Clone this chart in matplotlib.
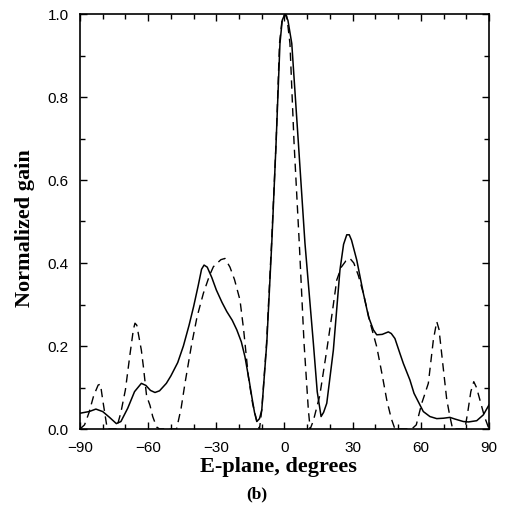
import matplotlib
matplotlib.use("Agg")
import matplotlib.pyplot as plt
from matplotlib.ticker import MultipleLocator

# Measured pattern (solid)
meas_deg = [-90, -86, -83, -80, -77, -74, -72, -69, -66, -63, -61, -59, -57, -55, -52,
            -50, -47, -44.5, -42, -40, -38, -36.5, -35.4, -34, -32, -30, -27.5, -25.4,
            -23, -21, -19, -17.4, -15.5, -14.4, -13.2, -12.2, -11, -10, -7.8, -5.6, -3.7,
            -2.0, -1.0, 0.2, 1.5, 3.2, 6.1, 9.0, 12.7, 14.4, 16.1, 17.2, 18.6, 21.5, 24.4,
            26, 27.4, 28.5, 29.5, 31.8, 34.7, 37, 39.1, 40.6, 43, 45.7, 47, 48.6, 50.8,
            52.3, 55.2, 57, 59.6, 61.1, 64, 67, 70, 72.8, 75, 78.7, 81, 84.6, 87.5, 90]
meas_gain = [0.038, 0.042, 0.048, 0.042, 0.028, 0.013, 0.018, 0.050, 0.090, 0.110, 0.105,
             0.093, 0.088, 0.092, 0.110, 0.128, 0.160, 0.200, 0.250, 0.295, 0.345, 0.385,
             0.395, 0.390, 0.365, 0.335, 0.305, 0.283, 0.262, 0.239, 0.210, 0.174, 0.115,
             0.078, 0.040, 0.018, 0.025, 0.046, 0.207, 0.448, 0.690, 0.929, 0.985, 1.000,
             0.985, 0.929, 0.690, 0.448, 0.207, 0.090, 0.030, 0.040, 0.062, 0.190, 0.383,
             0.445, 0.468, 0.468, 0.455, 0.407, 0.327, 0.270, 0.239, 0.227, 0.228, 0.234,
             0.230, 0.218, 0.182, 0.158, 0.118, 0.086, 0.058, 0.042, 0.030, 0.025, 0.026,
             0.028, 0.024, 0.018, 0.017, 0.020, 0.034, 0.058]

# Computed pattern (dashed)
calc_deg = [-90, -88, -86, -84, -82, -81, -80, -79, -78, -74, -72, -70, -68,
            -66.5, -65.8, -65, -63, -62.1, -60.7, -59.2, -58, -56.3, -55, -47.5, -45.5,
            -43.8, -41, -38.5, -35.7, -33, -31.3, -28, -26.2, -24, -22, -19.6, -18, -15.9,
            -14, -12, -11, -10, -7.9, -5.7, -3.7, -2.2, -1, 0.3, 1, 2.4, 4.2, 6.5, 8.6,
            10.5, 11.3, 12.7, 15.5, 18.6, 21, 23, 25, 27, 28.8, 30.5, 32.5, 34.7, 37.5,
            40.6, 43, 45, 47, 48.6, 56, 58, 60.4, 61.5, 63.3, 65.5, 67, 68, 69.2, 71.4,
            72.8, 74, 79.4, 80.8, 82, 83.3, 84.5, 86, 88, 90]
calc_gain = [0.0, 0.010, 0.040, 0.080, 0.106, 0.108, 0.070, 0.035, 0.0, 0.0, 0.040,
             0.095, 0.180, 0.240, 0.255, 0.250, 0.190, 0.150, 0.080, 0.057, 0.030, 0.005,
             0.0, 0.0, 0.050, 0.110, 0.200, 0.270, 0.327, 0.370, 0.391, 0.408, 0.411,
             0.390, 0.360, 0.311, 0.240, 0.126, 0.060, 0.015, 0.0, 0.046, 0.207, 0.448,
             0.690, 0.929, 0.990, 1.000, 0.995, 0.929, 0.690, 0.448, 0.207, 0.046, 0.0,
             0.020, 0.080, 0.190, 0.280, 0.359, 0.390, 0.405, 0.411, 0.400, 0.370, 0.327,
             0.260, 0.198, 0.130, 0.070, 0.025, 0.0, 0.0, 0.010, 0.062, 0.080, 0.110,
             0.214, 0.259, 0.240, 0.180, 0.071, 0.030, 0.0, 0.0, 0.046, 0.090, 0.114,
             0.100, 0.070, 0.030, 0.0]

x_ticks = [-90, -60, -30, 0, 30, 60, 90]
x_ticklabels = ["\u221290", "\u221260", "\u221230", "0", "30", "60", "90"]
y_ticks = [0.0, 0.2, 0.4, 0.6, 0.8, 1.0]
y_ticklabels = ["0.0", "0.2", "0.4", "0.6", "0.8", "1.0"]

fig = plt.figure(figsize=(5.06, 5.06), dpi=100)
ax = fig.add_axes([80 / 506, 1 - 430 / 506, (489 - 80) / 506, (430 - 15) / 506])

ax.plot(meas_deg, meas_gain, color="black", lw=1.1, solid_joinstyle="round")
ax.plot(calc_deg, calc_gain, color="black", lw=1.0, linestyle=(0, (6, 4)))

ax.set_xlim(-90, 90)
ax.set_ylim(0, 1.0)
ax.set_xticks(x_ticks)
ax.set_xticklabels(x_ticklabels)
ax.set_yticks(y_ticks)
ax.set_yticklabels(y_ticklabels)
ax.xaxis.set_minor_locator(MultipleLocator(10))
ax.yaxis.set_minor_locator(MultipleLocator(0.1))
ax.tick_params(which="both", direction="in", top=True, right=True, width=1.0)
ax.tick_params(which="major", length=5, labelsize=11, pad=8)
ax.tick_params(which="minor", length=3.5)
for lab in ax.get_xticklabels() + ax.get_yticklabels():
    lab.set_family("Liberation Sans")
for s in ax.spines.values():
    s.set_linewidth(1.2)

fig.text(278 / 506, 1 - 467 / 506, "E-plane, degrees", ha="center", va="center",
         family="Liberation Serif", fontweight="bold", fontsize=16)
fig.text(257 / 506, 1 - 494 / 506, "(b)", ha="center", va="center",
         family="Liberation Serif", fontweight="bold", fontsize=12.5)
fig.text(25 / 506, 1 - 228 / 506, "Normalized gain", ha="center", va="center",
         rotation=90, family="Liberation Serif", fontweight="bold", fontsize=16)

fig.savefig("out.png", dpi=100)
